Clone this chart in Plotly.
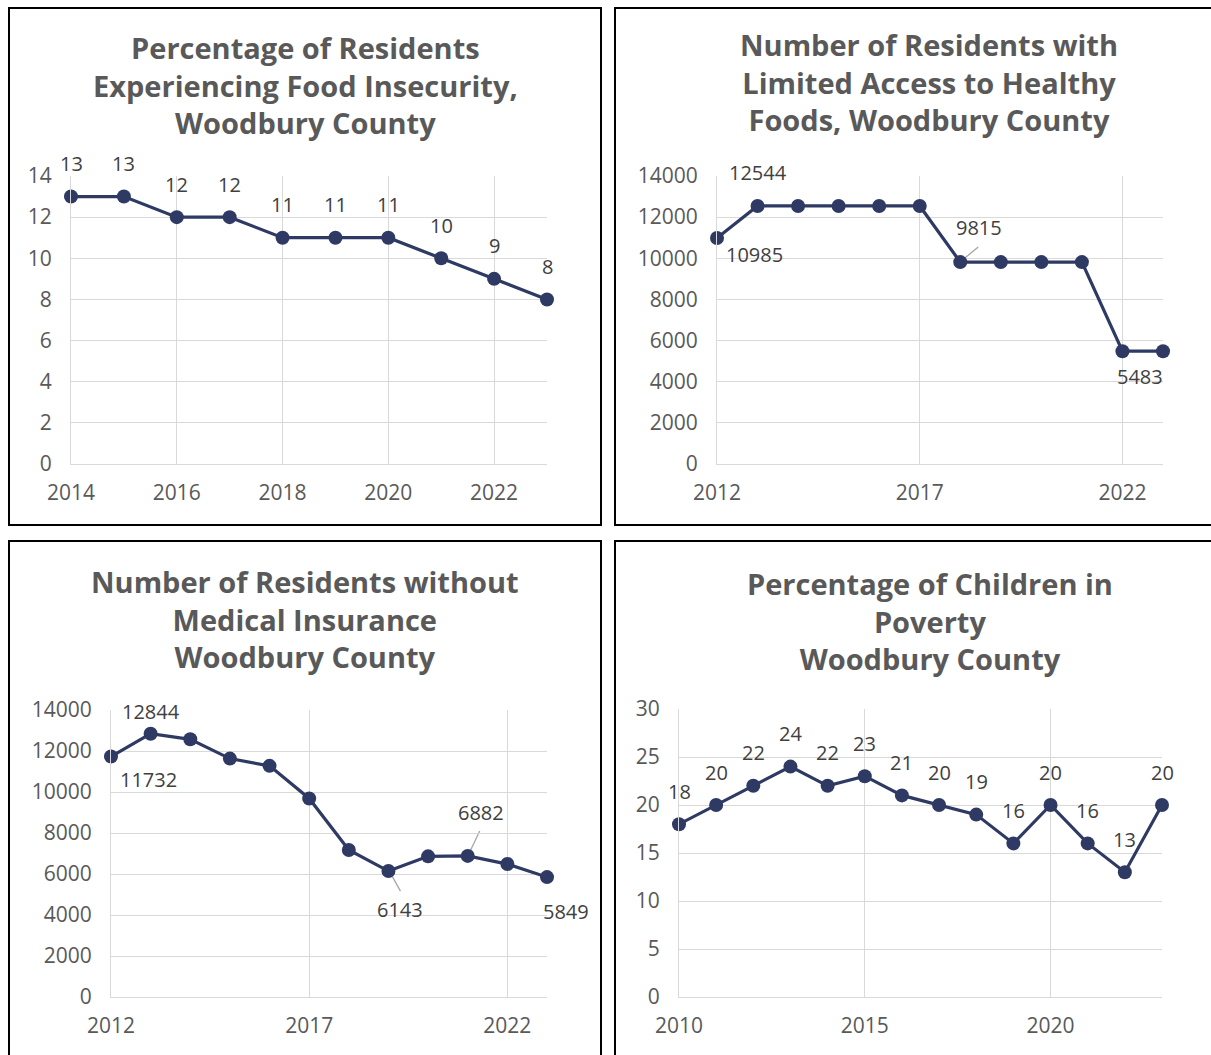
import plotly.graph_objects as go

# ---------------- data ----------------
food_years = list(range(2014, 2024))
food_pct = [13, 13, 12, 12, 11, 11, 11, 10, 9, 8]

healthy_years = list(range(2012, 2024))
healthy_num = [10985, 12544, 12544, 12544, 12544, 12544, 9815, 9815, 9815, 9815, 5483, 5483]

ins_years = list(range(2012, 2024))
ins_num = [11732, 12844, 12570, 11630, 11275, 9685, 7170, 6143, 6860, 6882, 6485, 5849]

pov_years = list(range(2010, 2024))
pov_pct = [18, 20, 22, 24, 22, 23, 21, 20, 19, 16, 20, 16, 13, 20]

titles = [
    "Percentage of Residents<br>Experiencing Food Insecurity,<br>Woodbury County",
    "Number of Residents with<br>Limited Access to Healthy<br>Foods, Woodbury County",
    "Number of Residents without<br>Medical Insurance<br>Woodbury County",
    "Percentage of Children in<br>Poverty<br>Woodbury County",
]

# ---------------- styling ----------------
W, H = 1211, 1055
FONT = "Open Sans"
LINE = "#2E3A63"
GRID = "#D9D9D9"
TICK = "#595959"
LABEL = "#404040"
LEADER = "#A6A6A6"


def px(x):
    return x / W


def py(y):
    return 1 - y / H


fig = go.Figure()

panels = [
    dict(x=food_years, y=food_pct, xd=(71, 547), yd=(176, 464), yr=[0, 14], dy=2, dx=2, t0=2014),
    dict(x=healthy_years, y=healthy_num, xd=(717, 1163), yd=(176, 464), yr=[0, 14000], dy=2000, dx=5, t0=2012),
    dict(x=ins_years, y=ins_num, xd=(111, 547), yd=(710, 997), yr=[0, 14000], dy=2000, dx=5, t0=2012),
    dict(x=pov_years, y=pov_pct, xd=(679, 1162), yd=(709, 997), yr=[0, 30], dy=5, dx=5, t0=2010),
]

# label offsets (pixels, y up) per panel: index -> (dx, dy); None = all labelled above
label_offsets = [
    None,
    {0: (37, -16), 1: (0, 33), 6: (19, 35), 10: (18, -25)},
    {0: (37, -23), 1: (0, 22), 7: (12, -38), 9: (13, 43), 11: (19, -34)},
    None,
]
# leader lines per panel: index -> (x0, y0, x1, y1) pixel offsets from point
leaders = [
    {},
    {6: (2, 2, 18, 15)},
    {7: (2, -2, 12, -20), 9: (2, 4, 12, 25), 11: (3, -3, 18, -15)},
    {},
]

title_pos = [(305, 85), (929, 82), (305, 619), (930, 621)]
borders = [(9, 8, 601, 525), (615, 8, 1260, 525), (9, 541, 601, 1070), (615, 541, 1260, 1070)]

annotations = []
shapes = []

for i, p in enumerate(panels):
    n = "" if i == 0 else str(i + 1)
    xa, ya = "x" + n, "y" + n
    fig.add_trace(go.Scatter(
        x=p["x"], y=p["y"], xaxis=xa, yaxis=ya, mode="lines+markers",
        line=dict(color=LINE, width=3.2), marker=dict(color=LINE, size=14),
        cliponaxis=False, showlegend=False, hoverinfo="x+y",
    ))
    axis_common = dict(showgrid=True, gridcolor=GRID, gridwidth=1, showline=True,
                       linecolor=GRID, linewidth=1, zeroline=False, ticks="",
                       automargin=False, tickformat="d",
                       tickfont=dict(family=FONT, size=21, color=TICK), fixedrange=True)
    fig.update_layout(**{
        "xaxis" + n: dict(domain=[px(p["xd"][0]), px(p["xd"][1])], range=[p["x"][0], p["x"][-1]],
                          tick0=p["t0"], dtick=p["dx"], anchor=ya, ticklabelstandoff=10,
                          **axis_common),
        "yaxis" + n: dict(domain=[py(p["yd"][1]), py(p["yd"][0])], range=p["yr"], dtick=p["dy"],
                          anchor=xa, ticklabelstandoff=14, **axis_common),
    })
    offs = label_offsets[i]
    for j, (xv, yv) in enumerate(zip(p["x"], p["y"])):
        if offs is None:
            dx, dy = 0, 33
        elif j in offs:
            dx, dy = offs[j]
        else:
            continue
        annotations.append(dict(x=xv, y=yv, xref=xa, yref=ya, text=str(yv), showarrow=False,
                                xshift=dx, yshift=dy,
                                font=dict(family=FONT, size=20, color=LABEL)))
    for j, (x0, y0, x1, y1) in leaders[i].items():
        shapes.append(dict(type="line", xref=xa, yref=ya, xsizemode="pixel", ysizemode="pixel",
                           xanchor=p["x"][j], yanchor=p["y"][j], x0=x0, y0=y0, x1=x1, y1=y1,
                           line=dict(color=LEADER, width=1.3), layer="below"))
    tx, ty = title_pos[i]
    annotations.append(dict(x=px(tx), y=py(ty), xref="paper", yref="paper", text="<b>" + titles[i] + "</b>",
                            showarrow=False, xanchor="center", yanchor="middle",
                            font=dict(family=FONT, size=29, color=TICK)))
    bx0, by0, bx1, by1 = borders[i]
    shapes.append(dict(type="rect", xref="paper", yref="paper", x0=px(bx0), x1=px(bx1),
                       y0=py(by1), y1=py(by0), line=dict(color="black", width=2),
                       fillcolor="rgba(0,0,0,0)", layer="above"))

fig.update_layout(
    width=W, height=H, margin=dict(l=0, r=0, t=0, b=0, pad=0, autoexpand=False),
    paper_bgcolor="white", plot_bgcolor="white",
    annotations=annotations, shapes=shapes,
    font=dict(family=FONT, color=TICK),
)

fig.write_html("out.html", config={"displayModeBar": False},
               post_script="document.body.style.margin='0';document.body.style.overflow='hidden';")
